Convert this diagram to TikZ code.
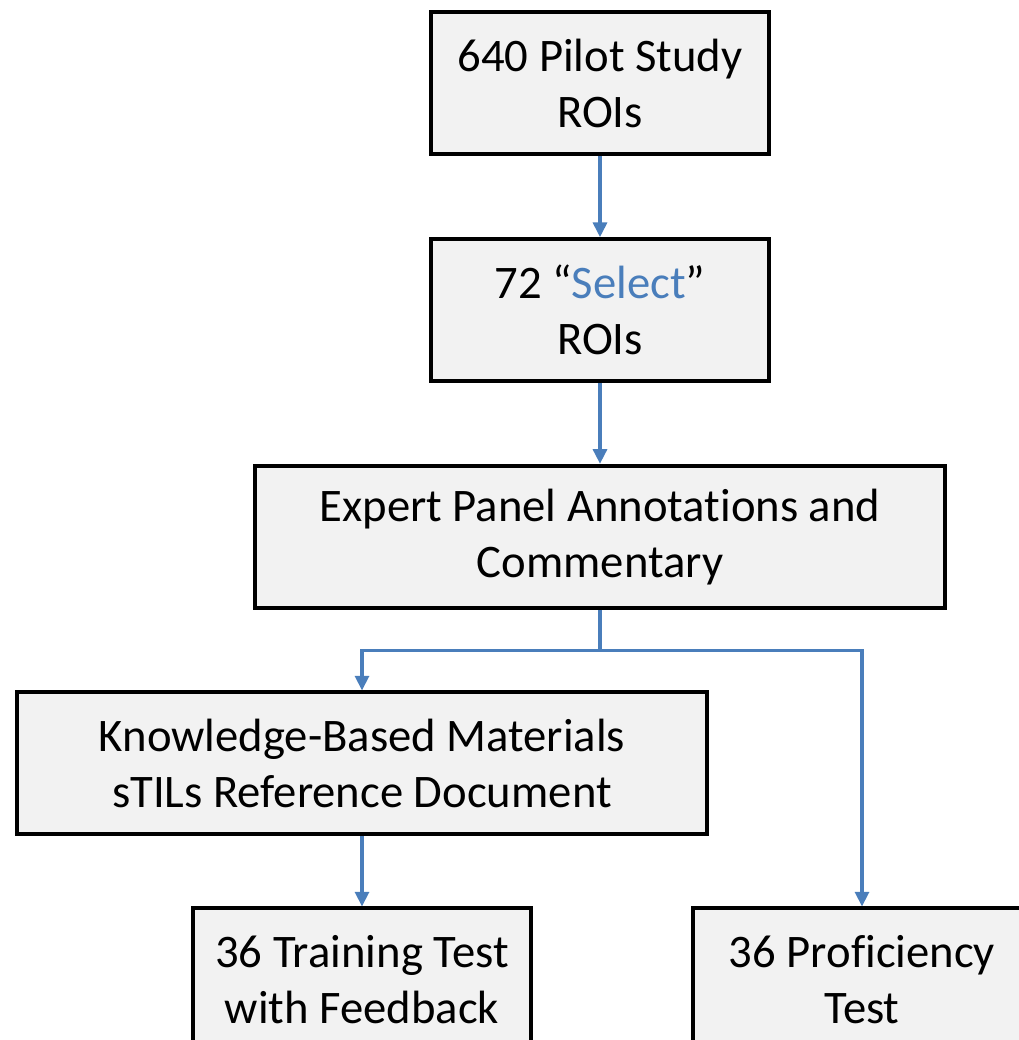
\documentclass[tikz,border=0pt]{standalone}
\usepackage{fontspec}
\setmainfont{Carlito}[Ligatures=NoCommon]
\usepackage{tikz}
\usetikzlibrary{arrows.meta, positioning, calc}
\definecolor{flowblue}{RGB}{74,126,187}
\definecolor{boxgray}{RGB}{242,242,242}
\tikzstyle{stage} = [rectangle, minimum width=253.5pt, minimum height=106.5pt, inner sep=0pt, align=center, draw=black, line width=3pt, fill=boxgray, font=\fontsize{35}{42}\selectfont]
\tikzstyle{widestage} = [stage, minimum width=517pt]
\tikzstyle{arrow} = [flowblue, line width=2.4pt, -{Triangle[width=10.5pt,length=11pt]}]

\begin{document}
\begin{tikzpicture}[node distance=170pt]
\useasboundingbox (0,0) rectangle (764.25pt,-780pt);
\clip (0,0) rectangle (764.25pt,-780pt);

% Boxes
\node (pilot) [stage] at (450pt,-62.6pt) {640 Pilot Study\\ROIs};
\node (select) [stage, below of=pilot] {72 “\textcolor{flowblue}{Select}”\\ROIs};
\node (expert) [widestage, below of=select] {Expert Panel Annotations and\\Commentary};
\node (materials) [widestage, below of=expert, xshift=-178.5pt] {Knowledge-Based Materials\\sTILs Reference Document};
\node (training) [stage, below of=materials, yshift=8pt] {36 Training Test\\with Feedback};
\node (proficiency) [stage, node distance=375pt, right of=training] {36 Proficiency\\Test};

% Arrows
\coordinate (split) at ($(expert.south)!0.5!(expert.south |- materials.north)$);
\draw [arrow] (pilot) -- (select);
\draw [arrow] (select) -- (expert);
\draw [arrow] (expert.south) -- (split) -| (materials.north);
\draw [arrow] (split) -| (proficiency.north);
\draw [arrow] (materials) -- (training);

\end{tikzpicture}
\end{document}
